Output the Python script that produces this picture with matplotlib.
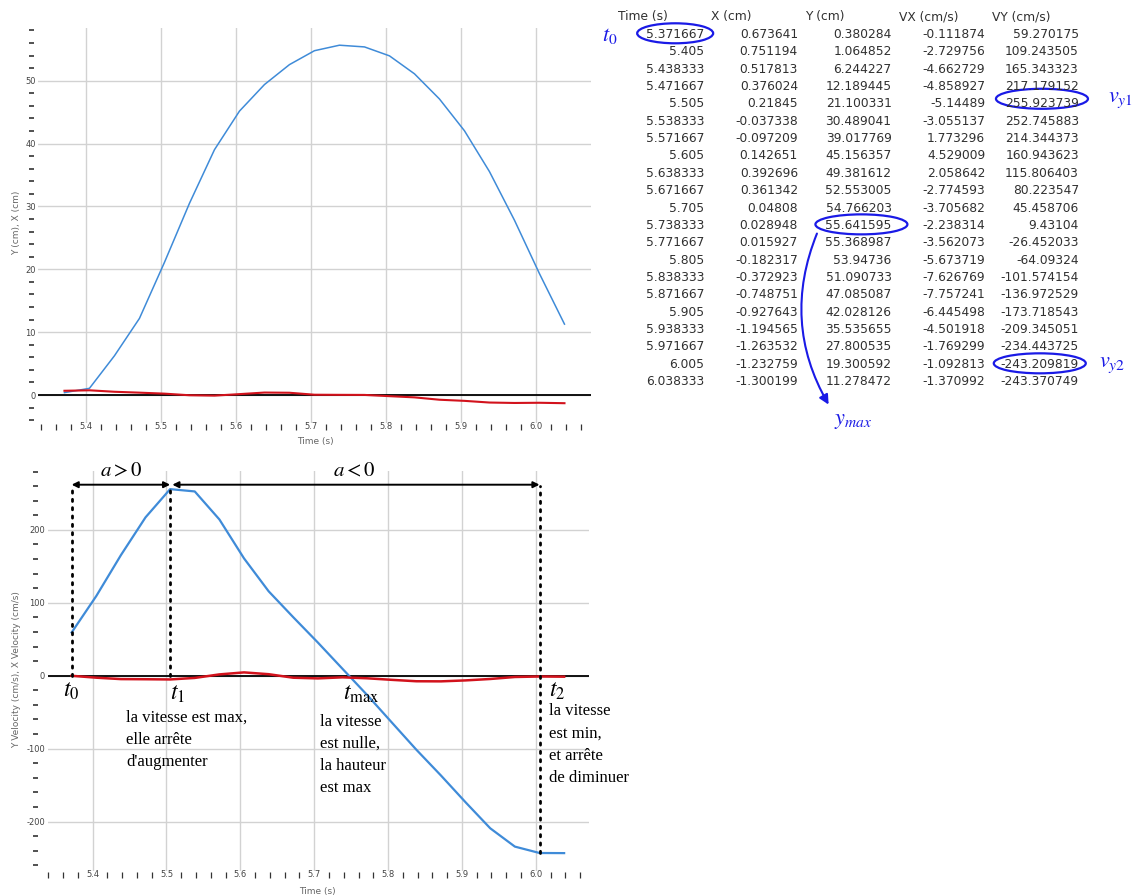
import numpy as np
import matplotlib
matplotlib.use('Agg')
import matplotlib.pyplot as plt
from matplotlib.ticker import MultipleLocator, FixedLocator, FormatStrFormatter
from matplotlib.patches import Ellipse, FancyArrowPatch

# tracked data (table on the right)
time_s = [5.371667, 5.405, 5.438333, 5.471667, 5.505, 5.538333, 5.571667, 5.605,
          5.638333, 5.671667, 5.705, 5.738333, 5.771667, 5.805, 5.838333, 5.871667,
          5.905, 5.938333, 5.971667, 6.005, 6.038333]
x_cm = [0.673641, 0.751194, 0.517813, 0.376024, 0.21845, -0.037338, -0.097209, 0.142651,
        0.392696, 0.361342, 0.04808, 0.028948, 0.015927, -0.182317, -0.372923, -0.748751,
        -0.927643, -1.194565, -1.263532, -1.232759, -1.300199]
y_cm = [0.380284, 1.064852, 6.244227, 12.189445, 21.100331, 30.489041, 39.017769, 45.156357,
        49.381612, 52.553005, 54.766203, 55.641595, 55.368987, 53.94736, 51.090733, 47.085087,
        42.028126, 35.535655, 27.800535, 19.300592, 11.278472]
vx_cms = [-0.111874, -2.729756, -4.662729, -4.858927, -5.14489, -3.055137, 1.773296, 4.529009,
          2.058642, -2.774593, -3.705682, -2.238314, -3.562073, -5.673719, -7.626769, -7.757241,
          -6.445498, -4.501918, -1.769299, -1.092813, -1.370992]
vy_cms = [59.270175, 109.243505, 165.343323, 217.179152, 255.923739, 252.745883, 214.344373,
          160.943623, 115.806403, 80.223547, 45.458706, 9.43104, -26.452033, -64.09324,
          -101.574154, -136.972529, -173.718543, -209.345051, -234.443725, -243.209819,
          -243.370749]
headers = ['Time (s)', 'X (cm)', 'Y (cm)', 'VX (cm/s)', 'VY (cm/s)']

# indexes of the key instants
i_t0, i_t1, i_tmax, i_t2 = 0, 4, 11, 19

plt.rcParams['mathtext.fontset'] = 'stix'
plt.rcParams['axes.unicode_minus'] = False
plt.rcParams['font.family'] = ['DejaVu Sans']

BLUE = '#3f8bd8'
RED = '#d2121c'
GRID = '#d2d2d2'
INK = '#1a1ae6'
TXT = '#303030'
W, H = 1133, 896

fig = plt.figure(figsize=(W / 100, H / 100), dpi=100)


def px_axes(left, top, right, bottom, **kw):
    return fig.add_axes([left / W, 1 - bottom / H, (right - left) / W, (bottom - top) / H], **kw)


def style_axes(ax, xlim, ylim, ymajor, yminor, yout, ypad, xout, xpad):
    ax.set_xlim(*xlim)
    ax.set_ylim(*ylim)
    for s in ax.spines.values():
        s.set_color('none')
    ax.spines['left'].set_position(('outward', yout))
    ax.spines['bottom'].set_position(('outward', xout))
    ax.xaxis.set_major_locator(MultipleLocator(0.1))
    ax.xaxis.set_major_formatter(FormatStrFormatter('%.1f'))
    xm = [v / 100 for v in range(534, 607, 2) if v % 10 != 0]
    ax.xaxis.set_minor_locator(FixedLocator(xm))
    ax.yaxis.set_major_locator(MultipleLocator(ymajor))
    ax.yaxis.set_minor_locator(FixedLocator(yminor))
    ax.tick_params(axis='x', which='major', length=0, pad=xpad, labelsize=6, labelcolor='#444')
    ax.tick_params(axis='x', which='minor', length=4, width=0.9, direction='inout', color='#333')
    ax.tick_params(axis='y', which='major', length=0, pad=ypad, labelsize=6, labelcolor='#444')
    ax.tick_params(axis='y', which='minor', length=3.6, width=1.2, direction='inout', color='#333')
    ax.grid(True, which='major', color=GRID, lw=1)
    ax.set_axisbelow(True)
    ax.axhline(0, color='k', lw=1.3, zorder=2)


# ---- top: position
ax1 = px_axes(38.3, 28.3, 591, 423)
style_axes(ax1, (5.3368, 6.0737), (-4.45, 58.33), 10,
           [v for v in range(-4, 59, 2) if v % 10 != 0], 4.9, -3.2, 2.7, -3.4)
ax1.plot(time_s, y_cm, color=BLUE, lw=1.1, zorder=3)
ax1.plot(time_s, x_cm, color=RED, lw=1.5, zorder=3)
ax1.set_xlabel('Time (s)', fontsize=6.5, color='#666')
ax1.xaxis.set_label_coords(0.5006, -0.048)
ax1.xaxis.label.set_va('center')
ax1.set_ylabel('Y (cm), X (cm)', fontsize=6.5, color='#666')
ax1.yaxis.set_label_coords(-0.0385, 0.507)
ax1.yaxis.label.set_va('center')

# ---- bottom: velocity
ax2 = px_axes(47.8, 470.7, 589, 871)
style_axes(ax2, (5.3394, 6.072), (-267.9, 281.2), 100,
           [v for v in range(-260, 281, 20) if v % 100 != 0], 9.2, -7.2, 2.9, -3.4)
ax2.plot(time_s, vy_cms, color=BLUE, lw=1.6, zorder=3)
ax2.plot(time_s, vx_cms, color=RED, lw=1.8, zorder=3)
ax2.set_xlabel('Time (s)', fontsize=6.5, color='#666')
ax2.xaxis.set_label_coords(0.4985, -0.052)
ax2.xaxis.label.set_va('center')
ax2.set_ylabel('Y Velocity (cm/s), X Velocity (cm/s)', fontsize=6.5, color='#666')
ax2.yaxis.set_label_coords(-0.057, 0.502)
ax2.yaxis.label.set_va('center')

t0, t1, tmax, t2 = time_s[i_t0], time_s[i_t1], time_s[i_tmax], time_s[i_t2]
y_arrow = 262
dots = dict(color='k', lw=2, ls=(0, (0.8, 2.2)), dash_capstyle='round', zorder=4, clip_on=False)
ax2.plot([t0, t0], [0, y_arrow - 4], **dots)
ax2.plot([t1, t1], [0, y_arrow - 6], **dots)
ax2.plot([t2, t2], [vy_cms[i_t2], y_arrow - 2], **dots)
arr = dict(arrowstyle='<|-|>', color='k', lw=1.4, shrinkA=0, shrinkB=0, mutation_scale=9)
ax2.annotate('', xy=(t1, y_arrow), xytext=(t0, y_arrow), arrowprops=arr, annotation_clip=False)
ax2.annotate('', xy=(t2, y_arrow), xytext=(t1 + 0.003, y_arrow), arrowprops=arr, annotation_clip=False)
ax2.text((t0 + t1) / 2, 282, r'$a > 0$', ha='center', va='center', fontsize=15, clip_on=False)
ax2.text((t1 + t2) / 2, 282, r'$a < 0$', ha='center', va='center', fontsize=15, clip_on=False)

tl = dict(fontsize=17, va='center', annotation_clip=False, textcoords='offset points')
ax2.annotate(r'$t_0$', (t0, -20), xytext=(0, 0), ha='center', **tl)
ax2.annotate(r'$t_1$', (t1, -24), xytext=(0, 0), ha='left', **tl)
ax2.annotate(r'$t_{\rm max}$', (tmax, -24), xytext=(0, 0), ha='left', **tl)
ax2.annotate(r'$t_2$', (t2, -20), xytext=(7, 0), ha='left', **tl)

note = dict(fontsize=12, family=['Liberation Serif'], va='top', ha='left', linespacing=1.52, clip_on=False)
ax2.text(5.4452, -47, 'la vitesse est max,\nelle arrête\nd\'augmenter', **note)
ax2.text(5.7078, -52, 'la vitesse\nest nulle,\nla hauteur\nest max', **note)
ax2.text(6.0178, -38, 'la vitesse\nest min,\net arrête\nde diminuer', **note)

# ---- table overlay (pixel coordinates)
axo = fig.add_axes([0, 0, 1, 1], zorder=5)
axo.set_xlim(0, W)
axo.set_ylim(H, 0)
axo.axis('off')
axo.patch.set_alpha(0)

col_right = 704.3 + 93.65 * np.arange(len(headers))
row_y = 34.3 + 17.37 * np.arange(len(time_s))
for c, h in enumerate(headers):
    axo.text(col_right[c] - 86.7, 16.9, h, ha='left', va='center', fontsize=8.8, color=TXT)
cells = {}
for r, row in enumerate(zip(time_s, x_cm, y_cm, vx_cms, vy_cms)):
    for c, v in enumerate(row):
        cells[(r, c)] = axo.text(col_right[c], row_y[r], str(v), ha='right', va='center',
                                 fontsize=8.8, color=TXT)

fig.canvas.draw()
inv = axo.transData.inverted()
circled = [((i_t0, 0), 76, 0, -1), ((i_t1, 4), 92, 0, -5), ((i_tmax, 2), 92, 3, -1), ((i_t2, 4), 92, 0, -1)]
for key, w, dx, dy in circled:
    bb = cells[key].get_window_extent()
    (xa, ya), (xb, yb) = inv.transform([[bb.x0, bb.y0], [bb.x1, bb.y1]])
    axo.add_patch(Ellipse(((xa + xb) / 2 + dx, (ya + yb) / 2 + dy), w, 20, fill=False, ec=INK, lw=1.6))

lab = dict(color=INK, fontsize=16, ha='center', va='center')
axo.text(610, 36, r'$t_{\mathit{0}}$', **lab)
axo.text(1120, 100, r'$v_{\mathit{y1}}$', **lab)
axo.text(1112, 365, r'$v_{\mathit{y2}}$', **lab)
axo.text(853, 421, r'$y_{\mathit{max}}$', **lab)
axo.add_patch(FancyArrowPatch((818, 231), (830, 407), connectionstyle='arc3,rad=0.25',
                              arrowstyle='-|>', mutation_scale=14, color=INK, lw=1.5))

fig.savefig('out.png', dpi=100)
